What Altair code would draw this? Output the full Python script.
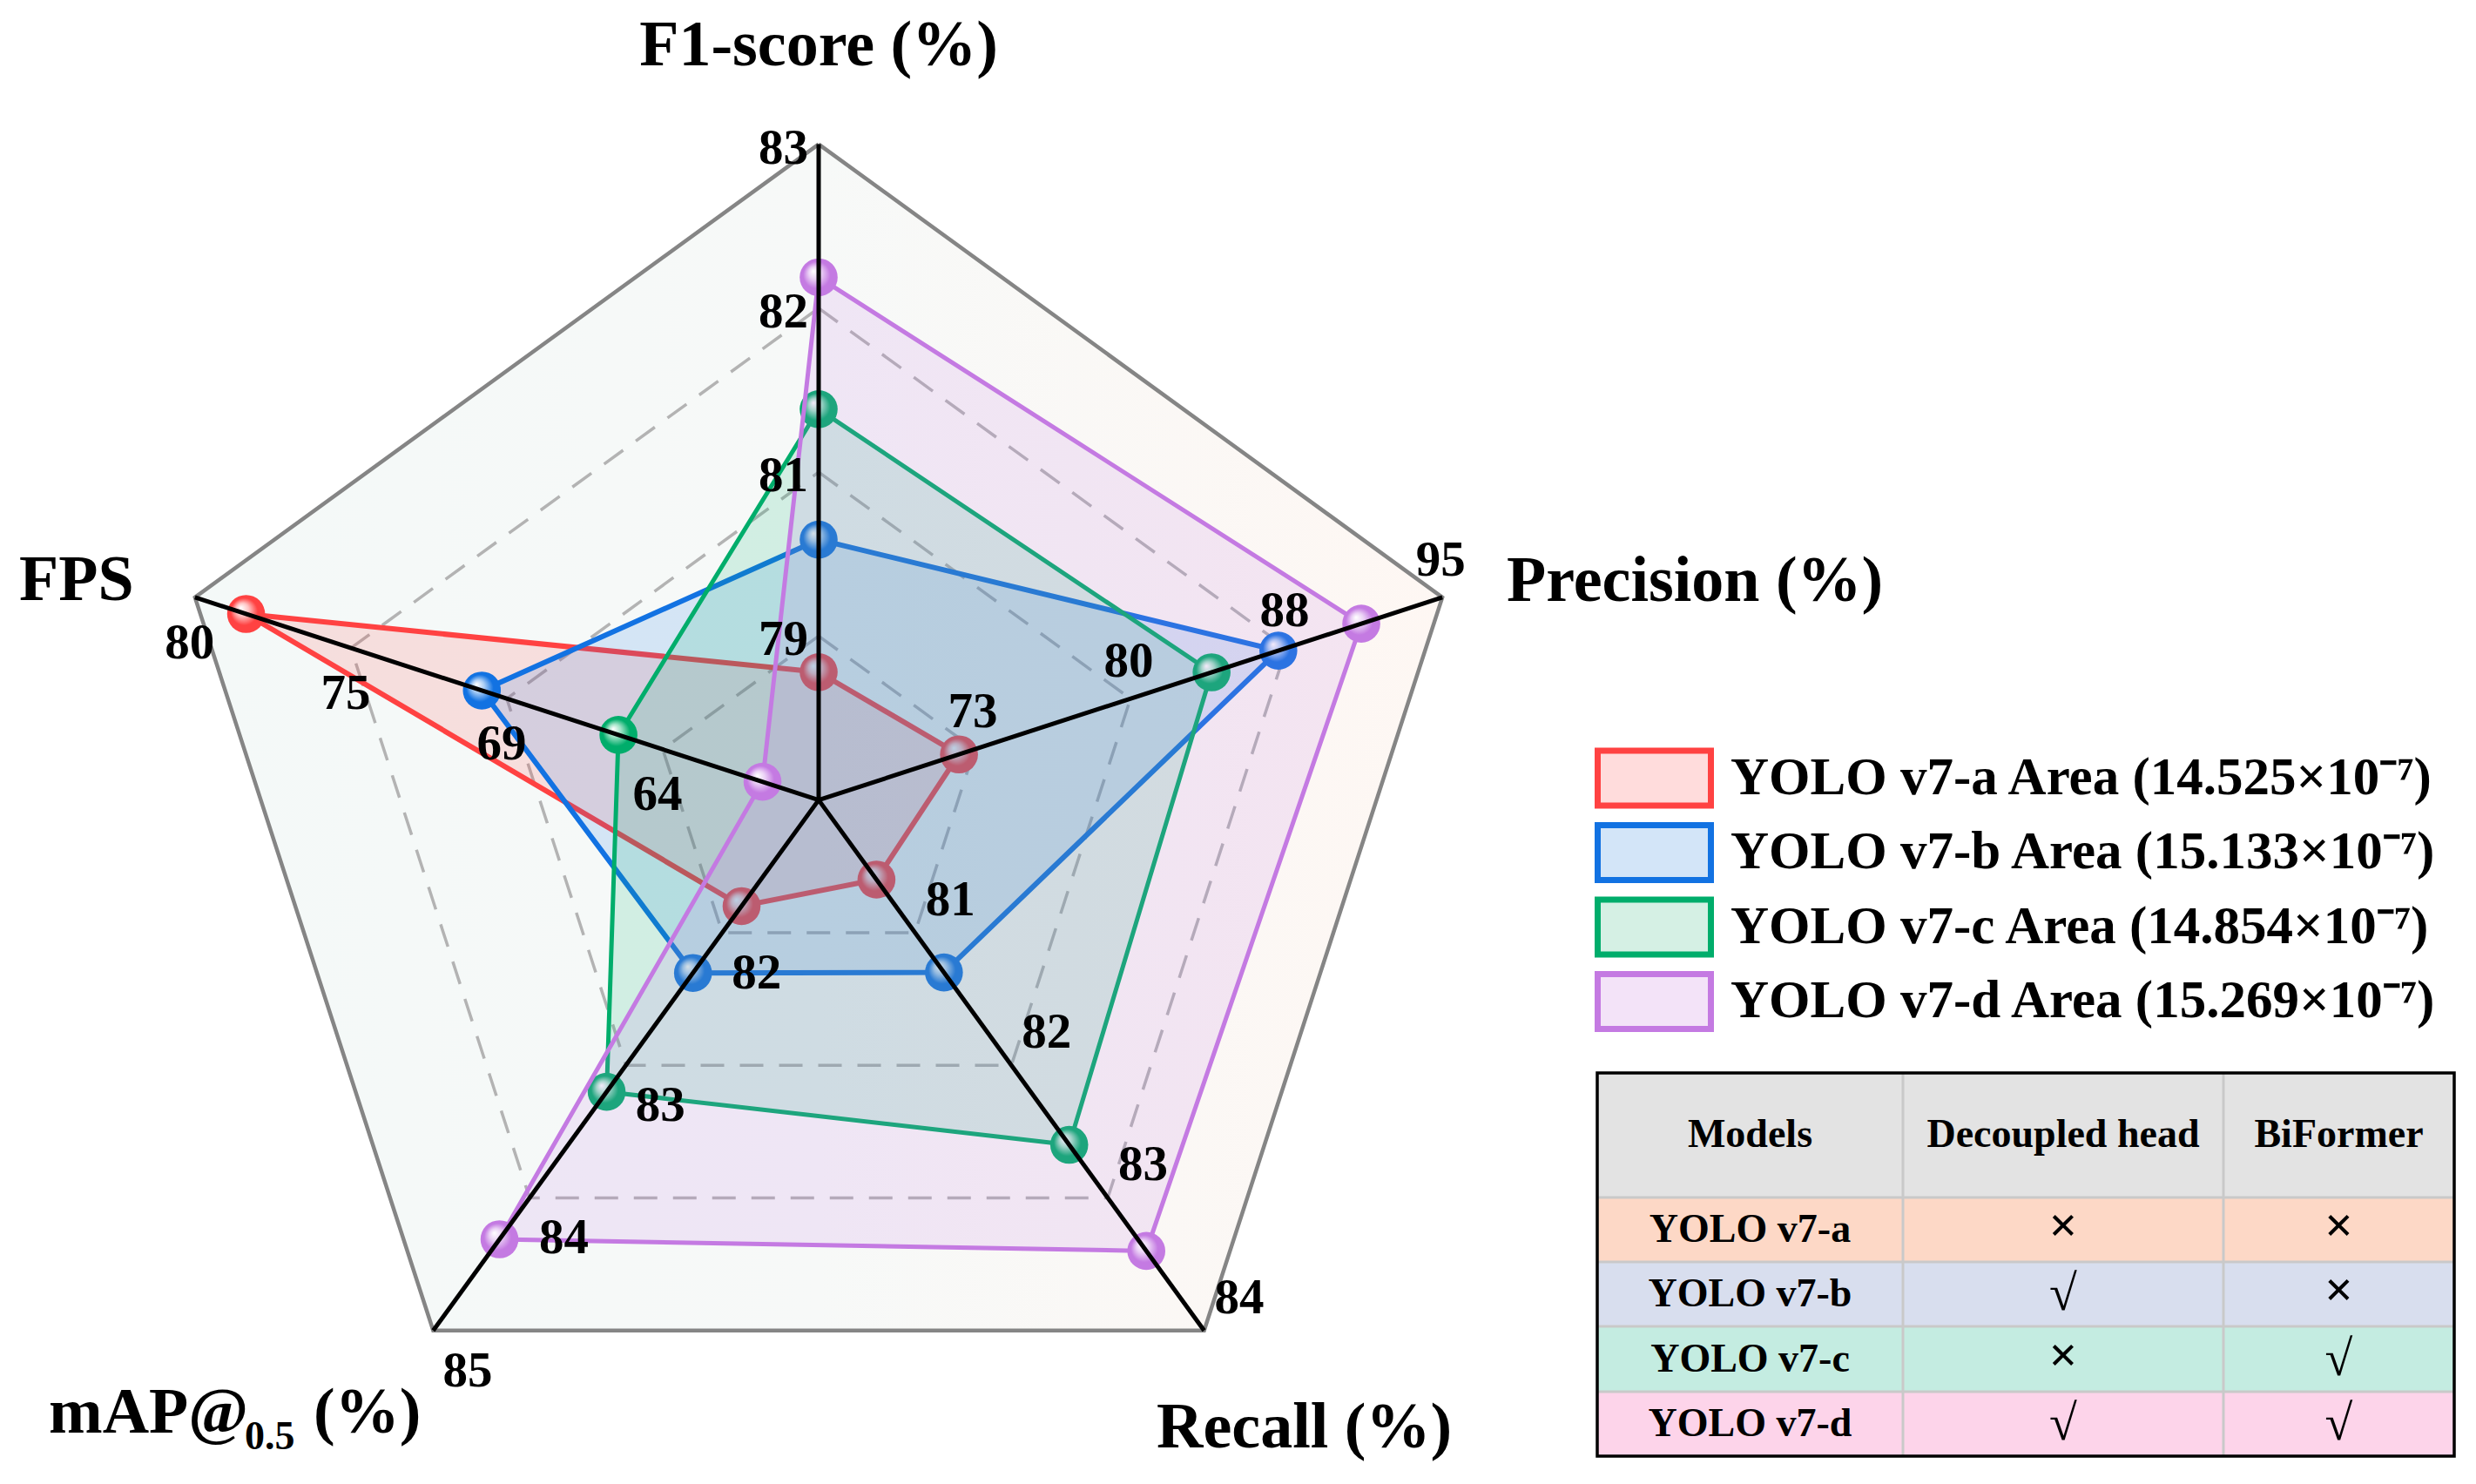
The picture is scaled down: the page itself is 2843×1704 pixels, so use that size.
import altair as alt
import pandas as pd

# ---------------- data ----------------
axis_titles = ["F1-score (%)", "Precision (%)", "Recall (%)", "mAP@0.5 (%)", "FPS"]
models = ["YOLO v7-a", "YOLO v7-b", "YOLO v7-c", "YOLO v7-d"]
# radius of each point as a fraction of the outer ring; axis order F1, Precision, Recall, mAP, FPS
r_v7a = [0.195, 0.225, 0.150, 0.200, 0.918]
r_v7b = [0.397, 0.737, 0.325, 0.326, 0.540]
r_v7c = [0.596, 0.630, 0.650, 0.550, 0.321]
r_v7d = [0.797, 0.870, 0.850, 0.828, 0.090]
ring_levels = [0.25, 0.50, 0.75, 1.00]
ticks_f1 = ["79", "81", "82", "83"]
ticks_precision = ["73", "80", "88", "95"]
ticks_recall = ["81", "82", "83", "84"]
ticks_map = ["82", "83", "84", "85"]
ticks_fps = ["64", "69", "75", "80"]
areas = ["14.525", "15.133", "14.854", "15.269"]
table_header = ["Models", "Decoupled head", "BiFormer"]
decoupled_head = ["×", "√", "×", "√"]
biformer = ["×", "×", "√", "√"]

# ---------------- style / layout ----------------
FONT = "Liberation Serif"
line_colors = ["#ff4242", "#1272e2", "#00ad6b", "#c47ae2"]
sphere_light = ["#ffc4c4", "#a9cdf5", "#9fe3c6", "#ead0f5"]
line_widths = [6, 6, 5, 5]
legend_fills = ["#ffdcdc", "#d3e5f8", "#d5f0e4", "#f3e3f8"]
row_fills = ["#fdd8c6", "#d8deee", "#c4ece1", "#fdd4ea"]
header_fill = "#e3e3e3"

W, H = 2820, 1680          # plot area (page offset 8px)
OX, OY = 8, 8
CX, CY, R = 940.0, 918.6, 753.0   # radar centre and radius, page px


def ux(X):
    return (X - CX) / R


def uy(Y):
    return (CY - Y) / R


xs = alt.Scale(domain=[ux(OX), ux(OX + W)], nice=False, zero=False)
ys = alt.Scale(domain=[uy(OY + H), uy(OY)], nice=False, zero=False)


def X(f):
    return alt.X(f, type="quantitative", scale=xs, axis=None)


def Y(f):
    return alt.Y(f, type="quantitative", scale=ys, axis=None)


def polar(ch):
    return ch.transform_calculate(
        theta="2*PI*datum.i/5",
    ).transform_calculate(
        x="datum.r*sin(datum.theta)", y="datum.r*cos(datum.theta)"
    )


layers = []

# background pentagon with gradient
bg = pd.DataFrame({"k": list(range(6)), "i": [k % 5 for k in range(6)], "r": [1.0] * 6})
grad = alt.LinearGradient(
    gradient="linear",
    stops=[alt.GradientStop(color="#f4f9f8", offset=0),
           alt.GradientStop(color="#f7f9f8", offset=0.5),
           alt.GradientStop(color="#fef7f3", offset=1)],
    x1=0, x2=1, y1=0.5, y2=0.5,
)
layers.append(polar(alt.Chart(bg).mark_line(fill=grad, stroke="#858585", strokeWidth=4.5))
              .encode(x=X("x"), y=Y("y"), order=alt.Order("k:Q")))

# dashed rings
ring_rows = []
for lv in ring_levels[:-1]:
    for k in range(6):
        ring_rows.append({"level": lv, "k": k, "i": k % 5, "r": lv})
rings = pd.DataFrame(ring_rows)
layers.append(polar(alt.Chart(rings).mark_line(stroke="#b3b3b3", strokeWidth=3.5, strokeDash=[27, 18]))
              .encode(x=X("x"), y=Y("y"), order=alt.Order("k:Q"), detail="level:N"))

# series polygons and spheres
for s, vals in enumerate([r_v7a, r_v7b, r_v7c, r_v7d]):
    poly = pd.DataFrame({"k": list(range(6)), "i": [k % 5 for k in range(6)],
                         "r": [vals[k % 5] for k in range(6)]})
    layers.append(polar(alt.Chart(poly).mark_line(
        fill=line_colors[s], fillOpacity=0.15, stroke=line_colors[s],
        strokeWidth=line_widths[s]))
        .encode(x=X("x"), y=Y("y"), order=alt.Order("k:Q")))
    pts = pd.DataFrame({"i": list(range(5)), "r": vals})
    sph = alt.RadialGradient(
        gradient="radial",
        stops=[alt.GradientStop(color="#ffffff", offset=0),
               alt.GradientStop(color=sphere_light[s], offset=0.3),
               alt.GradientStop(color=line_colors[s], offset=0.65),
               alt.GradientStop(color=line_colors[s], offset=1)],
        x1=0.36, y1=0.33, r1=0, x2=0.5, y2=0.5, r2=0.55,
    )
    layers.append(polar(alt.Chart(pts).mark_circle(size=1900, fill=sph, opacity=1, filled=True))
                  .encode(x=X("x"), y=Y("y")))

# axis spokes (on top of the spheres)
spokes = pd.DataFrame({"i": list(range(5)), "r": [1.0] * 5, "x0": [0.0] * 5, "y0": [0.0] * 5})
layers.append(polar(alt.Chart(spokes).mark_rule(color="black", strokeWidth=5))
              .encode(x=X("x0"), y=Y("y0"), x2="x:Q", y2="y:Q"))

# tick labels on each spoke
tick_specs = [
    (0, ticks_f1, "right", -12, 22),
    (1, ticks_precision, "center", -2, -25),
    (2, ticks_recall, "left", 12, -20),
    (3, ticks_map, "left", 11, 64),
    (4, ticks_fps, "center", -6, 70),
]
for i, labels, align, dx, dy in tick_specs:
    td = pd.DataFrame({"i": [i] * 4, "r": ring_levels, "label": labels})
    layers.append(polar(alt.Chart(td).mark_text(
        font=FONT, fontWeight="bold", fontSize=57, color="black",
        align=align, baseline="alphabetic", dx=dx, dy=dy))
        .encode(x=X("x"), y=Y("y"), text="label:N"))

# axis titles
title_c = pd.DataFrame({"t": [axis_titles[0]], "x": [ux(940)], "y": [uy(75)]})
layers.append(alt.Chart(title_c).mark_text(font=FONT, fontWeight="bold", fontSize=74,
                                           align="center", baseline="alphabetic", color="black")
              .encode(x=X("x"), y=Y("y"), text="t:N"))
title_l = pd.DataFrame({
    "t": [axis_titles[1], axis_titles[4], axis_titles[2], "mAP@", "0.5", "(%)"],
    "x": [ux(1730), ux(22), ux(1328), ux(56), ux(281), ux(360)],
    "y": [uy(690), uy(689), uy(1662), uy(1645), uy(1664), uy(1645)],
    "fs": [74, 74, 74, 74, 46, 74],
})
layers.append(alt.Chart(title_l).mark_text(font=FONT, fontWeight="bold",
                                           align="left", baseline="alphabetic", color="black")
              .encode(x=X("x"), y=Y("y"), text="t:N", size=alt.Size("fs:Q", scale=None)))

# legend
leg_c = [893.5 + 85.5 * k for k in range(4)]
leg = pd.DataFrame({
    "x": [ux(1834.5)] * 4, "x2": [ux(1964.5)] * 4,
    "y": [uy(c - 31.5) for c in leg_c], "y2": [uy(c + 31.5) for c in leg_c],
    "fill": legend_fills, "stroke": line_colors,
    "label": [f"{m} Area ({a}×10⁻⁷)" for m, a in zip(models, areas)],
    "ty": [uy(c + 18) for c in leg_c], "tx": [ux(1987)] * 4,
})
layers.append(alt.Chart(leg).mark_rect(strokeWidth=7)
              .encode(x=X("x"), x2="x2:Q", y=Y("y"), y2="y2:Q",
                      fill=alt.Fill("fill:N", scale=None), stroke=alt.Stroke("stroke:N", scale=None)))
layers.append(alt.Chart(leg).mark_text(font=FONT, fontWeight="bold", fontSize=61, align="left",
                                       baseline="alphabetic", color="black")
              .encode(x=X("tx"), y=Y("ty"), text="label:N"))

# table
col_edges = [1834, 2185, 2553, 2818]
row_edges = [1232, 1375, 1449, 1523, 1598, 1672]
cells = []
for rr in range(5):
    for cc in range(3):
        cells.append({"x": ux(col_edges[cc]), "x2": ux(col_edges[cc + 1]),
                      "y": uy(row_edges[rr]), "y2": uy(row_edges[rr + 1]),
                      "fill": header_fill if rr == 0 else row_fills[rr - 1]})
cells = pd.DataFrame(cells)
layers.append(alt.Chart(cells).mark_rect(strokeWidth=0)
              .encode(x=X("x"), x2="x2:Q", y=Y("y"), y2="y2:Q", fill=alt.Fill("fill:N", scale=None)))
seps = []
for cx_ in col_edges[1:-1]:
    seps.append({"x": ux(cx_), "x2": ux(cx_), "y": uy(row_edges[0]), "y2": uy(row_edges[-1])})
for ry in row_edges[1:-1]:
    seps.append({"x": ux(col_edges[0]), "x2": ux(col_edges[-1]), "y": uy(ry), "y2": uy(ry)})
seps = pd.DataFrame(seps)
layers.append(alt.Chart(seps).mark_rule(color="#c9c9c9", strokeWidth=3)
              .encode(x=X("x"), x2="x2:Q", y=Y("y"), y2="y2:Q"))
border = pd.DataFrame({"x": [ux(col_edges[0])], "x2": [ux(col_edges[-1])],
                       "y": [uy(row_edges[0])], "y2": [uy(row_edges[-1])]})
layers.append(alt.Chart(border).mark_rect(fillOpacity=0, stroke="black", strokeWidth=3.5)
              .encode(x=X("x"), x2="x2:Q", y=Y("y"), y2="y2:Q"))

col_centers = [(col_edges[c] + col_edges[c + 1]) / 2 for c in range(3)]
trows = []
for c in range(3):
    trows.append({"t": table_header[c], "x": ux(col_centers[c]), "y": uy(1317), "fs": 46})
for rr in range(4):
    base = (row_edges[rr + 1] + row_edges[rr + 2]) / 2 + 14
    trows.append({"t": models[rr], "x": ux(col_centers[0]), "y": uy(base), "fs": 46})
    for c, t in ((1, decoupled_head[rr]), (2, biformer[rr])):
        sym_base = base + 4 if t == "√" else base
        trows.append({"t": t, "x": ux(col_centers[c]), "y": uy(sym_base), "fs": 58})
trows = pd.DataFrame(trows)
layers.append(alt.Chart(trows).mark_text(font=FONT, fontWeight="bold", align="center",
                                         baseline="alphabetic", color="black")
              .encode(x=X("x"), y=Y("y"), text="t:N", size=alt.Size("fs:Q", scale=None)))

chart = alt.layer(*layers).properties(
    width=W, height=H, padding=0, autosize=alt.AutoSizeParams(type="none"),
    background="white",
).configure_view(stroke=None)

chart.save("out.html", embed_options={"renderer": "svg", "actions": False})
